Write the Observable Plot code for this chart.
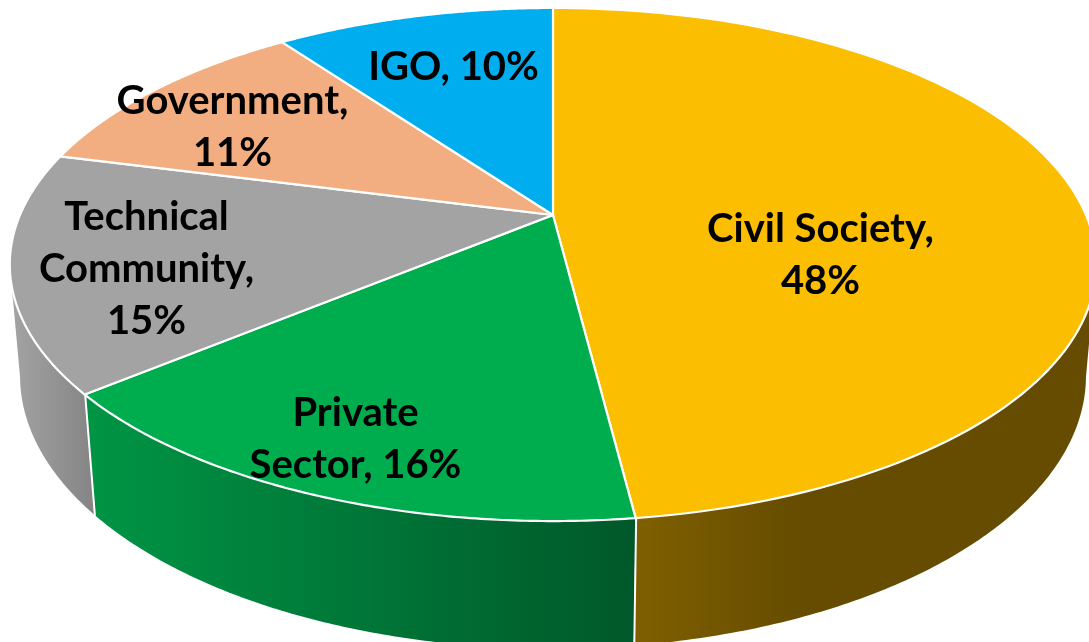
<!DOCTYPE html>
<html>
<head>
<meta charset="utf-8">
<script src="https://cdn.jsdelivr.net/npm/d3@7"></script>
<script src="https://cdn.jsdelivr.net/npm/@observablehq/plot@0.6"></script>
<style>
html,body{margin:0;padding:0;background:#fff;overflow:hidden}
svg{display:block;filter:blur(0.45px)}
</style>
</head>
<body>
<div id="chart"></div>
<script>
// Data
const categories = ["Civil Society", "Private Sector", "Technical Community", "Government", "IGO"];
const shares = [48, 16, 15, 11, 10];
const labelLines = [
  "Civil Society,\n48%",
  "Private\nSector, 16%",
  "Technical\nCommunity,\n15%",
  "Government,\n11%",
  "IGO, 10%"
];
const topColors = ["#fbbe00", "#00ad4e", "#a3a3a3", "#f2ae80", "#00aeef"];

// Styles
const wallGradients = [
  {id: "wall-0", stops: [["0%", "#7f6000"], ["35%", "#664c00"], ["100%", "#664c00"]]},
  {id: "wall-1", stops: [["0%", "#009545"], ["100%", "#00582a"]]},
  {id: "wall-2", stops: [["0%", "#a4a4a4"], ["100%", "#848484"]]}
];
const labelPlace = [[820, 251], [355, 435], [146, 265], [232, 123], [453, 63]];

// Perspective view of the pie's disc: u to the right, v towards the viewer, z downward.
const view = {ax: 553, ay: 215, a: 533, b: 247, k: 0.193, m: 0.0185, h: 111};
function project(frac, r, z) {
  const t = frac * 2 * Math.PI;
  const u = r * Math.sin(t), v = -r * Math.cos(t);
  const w = 1 - view.k * v + view.m * z;
  return [view.ax + view.a * u / w, view.ay + (view.b * v + view.h * z) / w];
}

const total = d3.sum(shares);
const cuts = d3.cumsum([0, ...shares]).map(c => c / total);
const steps = (f0, f1) => d3.range(0, 121).map(i => f0 + (f1 - f0) * i / 120);

// A wall is only seen between its cuts and the silhouette of the cylinder.
const silhouetteRight = 0.281, silhouetteLeft = 0.719;
const wallSpans = [
  [silhouetteRight, cuts[1]],
  [cuts[1], cuts[2]],
  [cuts[2], silhouetteLeft]
];

const defs = () => {
  const d = d3.create("svg:defs");
  for (const g of wallGradients) {
    const lg = d.append("linearGradient").attr("id", g.id)
      .attr("x1", 0).attr("x2", 1).attr("y1", 0).attr("y2", 0);
    for (const [o, c] of g.stops) lg.append("stop").attr("offset", o).attr("stop-color", c);
  }
  return d.node();
};

const wallMarks = wallSpans.map(([f0, f1], i) =>
  Plot.area(steps(f0, f1), {
    x1: f => project(f, 1, 0)[0],
    y1: f => project(f, 1, 0)[1],
    x2: f => project(f, 1, 1)[0],
    y2: f => project(f, 1, 1)[1],
    fill: `url(#${wallGradients[i].id})`
  })
);

const dividerMarks = [cuts[1], cuts[2]].map(f =>
  Plot.line([0, 1], {
    x: z => project(f, 1, z)[0],
    y: z => project(f, 1, z)[1],
    stroke: "white",
    strokeWidth: 2
  })
);

const sectorMarks = shares.map((_, i) =>
  Plot.area(steps(cuts[i], cuts[i + 1]), {
    x1: () => view.ax,
    y1: () => view.ay,
    x2: f => project(f, 1, 0)[0],
    y2: f => project(f, 1, 0)[1],
    fill: topColors[i],
    stroke: "white",
    strokeWidth: 2.2
  })
);

const labels = Plot.text(labelLines.map((text, i) => ({
  text, name: categories[i], x: labelPlace[i][0], y: labelPlace[i][1]
})), {
  x: "x",
  y: "y",
  text: "text",
  fill: "black",
  fontFamily: "Lato",
  fontWeight: 700,
  fontSize: 40,
  lineHeight: 1.3,
  textAnchor: "middle",
  lineAnchor: "middle"
});

const chart = Plot.plot({
  width: 1089,
  height: 642,
  margin: 0,
  x: {domain: [0, 1089], range: [0, 1089], axis: null},
  y: {domain: [0, 642], range: [0, 642], axis: null},
  marks: [defs, ...wallMarks, ...dividerMarks, ...sectorMarks, labels]
});
document.getElementById("chart").append(chart);
</script>
</body>
</html>
